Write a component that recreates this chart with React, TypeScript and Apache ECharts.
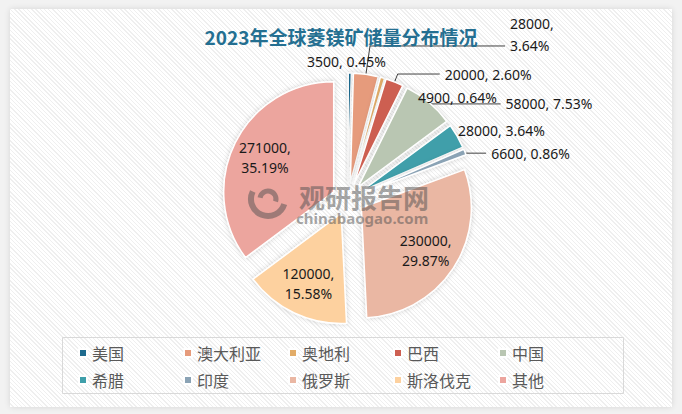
import React, { useEffect, useRef } from "react";
import * as echarts from "echarts";

const categories = ["美国", "澳大利亚", "奥地利", "巴西", "中国", "希腊", "印度", "俄罗斯", "斯洛伐克", "其他"];
const reserves = [3500, 28000, 4900, 20000, 58000, 28000, 6600, 230000, 120000, 271000];
const colors = ["#1f6b8e", "#e69b7b", "#e2ac68", "#cd5f51", "#b9c6b2", "#3f9faa", "#8ba3b5", "#eab7a3", "#fdd19f", "#eca59e"];
const insideLabels = ["俄罗斯", "斯洛伐克", "其他"];
const hiddenLeaders = ["美国", "奥地利", "希腊"];
const titleText = "2023年全球菱镁矿储量分布情况";

// leader line lengths [radial, horizontal] for the outside labels
const leaderLengths: Record<string, [number, number]> = {
  美国: [12, -48],
  澳大利亚: [28.6, 135],
  奥地利: [-20, 36],
  巴西: [8.5, 42],
  中国: [-2, 73],
  希腊: [12, -14.5],
  印度: [-3, 24],
};

const CX = 348;
const CY = 199;
const R = 110;

const pct = (p: any) => p.percent.toFixed(2);

export default function App() {
  const ref = useRef<HTMLDivElement>(null);
  useEffect(() => {
    document.body.style.margin = "0";
    if (!ref.current) return;
    const chart = echarts.init(ref.current, undefined, { renderer: "svg" });
    const wm = "rgba(80,80,80,0.5)";
    const labelFont = { fontSize: 14, fontFamily: "Noto Sans", color: "#1a1a1a", lineHeight: 20 };
    const legends = categories.map((name, i) => ({
      data: [name],
      left: 78 + 105 * (i % 5),
      top: 345 + 27 * Math.floor(i / 5),
      padding: 0,
      itemWidth: 8,
      itemHeight: 8,
      icon: "rect",
      selectedMode: false,
      textStyle: { fontSize: 16, color: "#595959", fontFamily: "Noto Sans CJK SC" },
    }));
    const option: any = {
      animation: false,
      title: {
        text: titleText,
        left: "center",
        top: 22,
        textStyle: { fontSize: 19, fontWeight: "bold", color: "#246f91", fontFamily: "Noto Sans CJK SC" },
      },
      legend: legends,
      graphic: [
        {
          type: "rect",
          shape: { x: 62.5, y: 337.5, width: 561, height: 56 },
          style: { fill: "rgba(0,0,0,0)", stroke: "#d9d9d9", lineWidth: 1 },
          silent: true,
        },
        {
          type: "arc",
          z: 100,
          silent: true,
          shape: { cx: 268, cy: 199, r: 17, startAngle: 0.3, endAngle: 3.6 },
          style: { stroke: wm, lineWidth: 6, fill: "none" },
        },
        {
          type: "arc",
          z: 100,
          silent: true,
          shape: { cx: 268, cy: 199, r: 8, startAngle: 3.3, endAngle: 6.6 },
          style: { stroke: wm, lineWidth: 5, fill: "none" },
        },
        {
          type: "text",
          z: 100,
          silent: true,
          x: 299,
          y: 196,
          style: {
            text: "观研报告网",
            font: "bold 26px 'Noto Sans CJK SC'",
            fill: wm,
            textVerticalAlign: "middle",
          },
        },
        {
          type: "text",
          z: 100,
          silent: true,
          x: 296,
          y: 218,
          style: {
            text: "chinabaogao.com",
            font: "bold 15px 'Noto Sans'",
            fill: wm,
            textVerticalAlign: "middle",
          },
        },
      ],
      series: [
        {
          type: "pie",
          center: [CX, CY],
          radius: R,
          startAngle: 90,
          clockwise: true,
          selectedMode: "multiple",
          selectedOffset: 16,
          avoidLabelOverlap: false,
          emphasis: { disabled: true },
          itemStyle: {
            borderColor: "#ffffff",
            borderWidth: 1.5,
            shadowBlur: 5,
            shadowColor: "rgba(0,0,0,0.18)",
          },
          select: { itemStyle: { borderColor: "#ffffff", borderWidth: 1.5 } },
          label: {
            ...labelFont,
            formatter: (p: any) =>
              p.name === "澳大利亚" ? `${p.value},\n${pct(p)}%\n\u3000` : `${p.value}, ${pct(p)}%`,
          },
          labelLine: { lineStyle: { color: "#404040", width: 1 } },
          labelLayout: () => ({}),
          data: categories.map((name, i) => {
            const inside = insideLabels.includes(name);
            const lens = leaderLengths[name];
            return {
              name,
              value: reserves[i],
              selected: true,
              itemStyle: { color: colors[i] },
              label: inside
                ? { show: false }
                : { position: "outside", lineHeight: name === "澳大利亚" ? 22 : 20 },
              labelLine: inside
                ? { show: false }
                : {
                    show: !hiddenLeaders.includes(name),
                    length: lens[0],
                    length2: lens[1],
                    minTurnAngle: 0,
                    maxSurfaceAngle: 180,
                  },
            };
          }),
        },
        {
          // transparent companion pie that only carries the inner labels
          type: "pie",
          center: [CX, CY],
          radius: [0, 180],
          startAngle: 90,
          clockwise: true,
          silent: true,
          selectedMode: false,
          avoidLabelOverlap: false,
          emphasis: { disabled: true },
          itemStyle: { color: "rgba(0,0,0,0)", borderWidth: 0 },
          label: {
            ...labelFont,
            position: "inside",
            formatter: (p: any) => `${p.value},\n${pct(p)}%`,
          },
          labelLine: { show: false },
          data: categories.map((name, i) => ({
            name,
            value: reserves[i],
            label: { show: insideLabels.includes(name) },
          })),
        },
      ],
    };
    chart.setOption(option);
    return () => chart.dispose();
  }, []);

  return (
    <div style={{ position: "relative", width: 682, height: 414, background: "#f2f2f2", overflow: "hidden" }}>
      <div
        style={{
          position: "absolute",
          left: 10,
          top: 9,
          width: 662,
          height: 398,
          background: "repeating-linear-gradient(45deg, #ffffff 0px, #ffffff 2px, #efefef 2px, #efefef 3px)",
          boxShadow: "0 0 6px rgba(0,0,0,0.12)",
        }}
      />
      <div ref={ref} style={{ position: "absolute", left: 0, top: 0, width: 682, height: 414 }} />
    </div>
  );
}
